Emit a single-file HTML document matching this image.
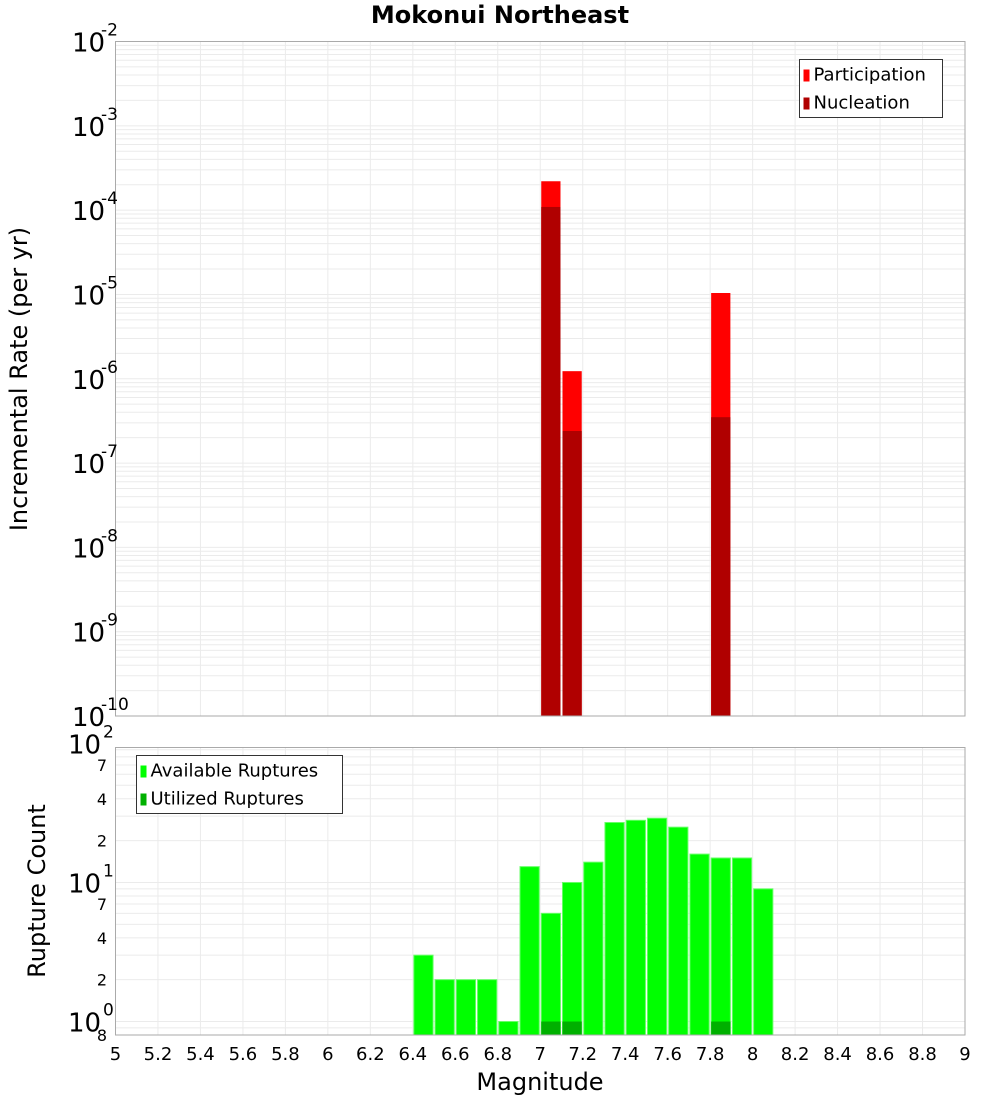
<!DOCTYPE html>
<html><head><meta charset="utf-8"><style>
body{margin:0;background:#fff;}
svg text{font-family:"DejaVu Sans","Liberation Sans",sans-serif;fill:#000;}
</style></head><body>
<svg id="c" width="1000" height="1100" xmlns="http://www.w3.org/2000/svg">
<text x="500" y="23" text-anchor="middle" font-size="24" font-weight="bold">Mokonui Northeast</text>
<g id="gtop"></g><g id="gbot"></g>
<text transform="translate(27,379) rotate(-90)" text-anchor="middle" font-size="24">Incremental Rate (per yr)</text>
<text transform="translate(45,891) rotate(-90)" text-anchor="middle" font-size="24">Rupture Count</text>
<text x="540" y="1090" text-anchor="middle" font-size="24">Magnitude</text>
</svg>
<script>
const rateMags=[7.05,7.15,7.85];
const participation=[2.2e-4,1.23e-6,1.04e-5];
const nucleation=[1.09e-4,2.4e-7,3.5e-7];
const countMags=[6.45,6.55,6.65,6.75,6.85,6.95,7.05,7.15,7.25,7.35,7.45,7.55,7.65,7.75,7.85,7.95,8.05];
const available=[3,2,2,2,1,13,6,10,14,27,28,29,25,16,15,15,9];
const utilizedMags=[7.05,7.15,7.85];
const utilized=[1,1,1];
const xTicks=[5,5.2,5.4,5.6,5.8,6,6.2,6.4,6.6,6.8,7,7.2,7.4,7.6,7.8,8,8.2,8.4,8.6,8.8,9];
const rateExps=[-10,-9,-8,-7,-6,-5,-4,-3,-2];
const countLabels=[[100,"10","2"],[70,"7"],[40,"4"],[20,"2"],[10,"10","1"],[7,"7"],[4,"4"],[2,"2"],[1,"10","0"],[0.8,"8"]];

const NS="http://www.w3.org/2000/svg";
const L=115.5,R=965;
const X=m=>L+(m-5)/4*(R-L);
const T0=41.5,T1=716;
const Yt=v=>T0+(-2-Math.log10(v))/8*(T1-T0);
const B0=747.5,B1=1035;
const lmin=Math.log10(0.8),lmax=Math.log10(93.5);
const Yb=v=>B1-(Math.log10(v)-lmin)/(lmax-lmin)*(B1-B0);
function mk(p,tag,a){const e=document.createElementNS(NS,tag);for(const k in a)e.setAttribute(k,a[k]);p.appendChild(e);return e;}
const gTop=document.getElementById('gtop'),gBot=document.getElementById('gbot');

for(const m of xTicks){for(const [g,a,b] of [[gTop,T0,T1],[gBot,B0,B1]]){const l=mk(g,'line',{x1:X(m),x2:X(m),y1:a,y2:b,stroke:'#ebebeb'});

}}
for(let e=-10;e<-2;e++)for(let k=1;k<10;k++){const y=Yt(k*Math.pow(10,e));const l=mk(gTop,'line',{x1:L,x2:R,y1:y,y2:y,stroke:'#ebebeb'});

}
for(let e=-1;e<2;e++)for(let k=1;k<10;k++){const v=k*Math.pow(10,e);if(v<0.8||v>93.5)continue;const y=Yb(v);const l=mk(gBot,'line',{x1:L,x2:R,y1:y,y2:y,stroke:'#ebebeb'});

}

rateMags.forEach((m,i)=>{
 const x=X(m-0.05)+1,w=X(m+0.05)-X(m-0.05)-2;
 let y=Yt(participation[i]);
 const r=mk(gTop,'rect',{x:x,y:y,width:w,height:T1-y,fill:'#ff0000'});
 
 
 y=Yt(nucleation[i]);
 const n=mk(gTop,'rect',{x:x,y:y,width:w,height:T1-y,fill:'#b00000'});
 
 
});
countMags.forEach((m,i)=>{
 const x=X(m-0.05)+1,w=X(m+0.05)-X(m-0.05)-2,y=Yb(available[i]);
 const r=mk(gBot,'rect',{x:x,y:y,width:w,height:B1-y,fill:'#00ff00',stroke:'#66ff66','stroke-width':1});
 
 
});
utilizedMags.forEach((m,i)=>{
 const x=X(m-0.05)+1,w=X(m+0.05)-X(m-0.05)-2,y=Yb(utilized[i]);
 const r=mk(gBot,'rect',{x:x,y:y,width:w,height:B1-y,fill:'#00b000'});
 
 
});
const f1=mk(gTop,'rect',{x:L,y:T0,width:R-L,height:T1-T0,fill:'none',stroke:'#aaa'});


const f2=mk(gBot,'rect',{x:L,y:B0,width:R-L,height:B1-B0,fill:'none',stroke:'#aaa'});



rateExps.forEach(e=>{
 const y=Yt(Math.pow(10,e));
 const t=mk(gTop,'text',{x:72,y:y+10,'font-size':26});
 
 
 t.textContent='10';
 const s=mk(gTop,'text',{x:101,y:y-6,'font-size':17});
 
 
 s.textContent=String(e);
});
countLabels.forEach(c=>{
 const y=Yb(c[0]);
 if(c.length===3){
  const t=mk(gBot,'text',{x:68,y:y+10,'font-size':26});
  
  
  t.textContent=c[1];
  const s=mk(gBot,'text',{x:103,y:y-6,'font-size':17});
  
  
  s.textContent=c[2];
 }else{
  const t=mk(gBot,'text',{x:107,y:y+6,'font-size':16,'text-anchor':'end'});
  
  
  t.textContent=c[1];
 }
});
xTicks.forEach(m=>{
 const t=mk(gBot,'text',{x:X(m),y:1060,'font-size':18,'text-anchor':'middle'});
 
 
 t.textContent=String(m);
});
function legend(g,x,y,w,items,name){
 const b=mk(g,'rect',{x:x,y:y,width:w,height:58,fill:'#fff',stroke:'#333'});
 
 
 items.forEach((it,i)=>{
  const r=mk(g,'rect',{x:x+4,y:y+10+i*28,width:6,height:12,fill:it[1]});
  
  
  const t=mk(g,'text',{x:x+14,y:y+21+i*28,'font-size':18});
  
  
  t.textContent=it[0];
 });
}
legend(gTop,799.5,59.5,143,[['Participation','#ff0000'],['Nucleation','#b00000']],'rate-legend');
legend(gBot,136.5,755.5,206,[['Available Ruptures','#00ff00'],['Utilized Ruptures','#00b000']],'count-legend');
</script>
</body></html>
